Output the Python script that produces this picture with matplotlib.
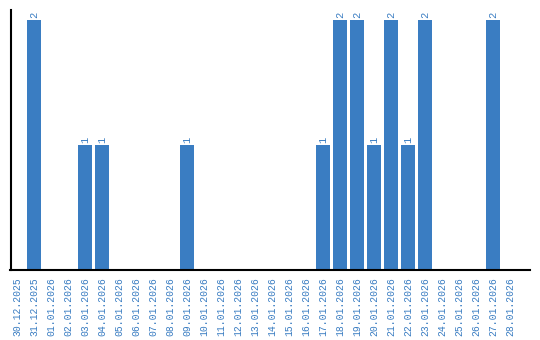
import matplotlib.pyplot as plt

dates = [
    "30.12.2025", "31.12.2025", "01.01.2026", "02.01.2026", "03.01.2026",
    "04.01.2026", "05.01.2026", "06.01.2026", "07.01.2026", "08.01.2026",
    "09.01.2026", "10.01.2026", "11.01.2026", "12.01.2026", "13.01.2026",
    "14.01.2026", "15.01.2026", "16.01.2026", "17.01.2026", "18.01.2026",
    "19.01.2026", "20.01.2026", "21.01.2026", "22.01.2026", "23.01.2026",
    "24.01.2026", "25.01.2026", "26.01.2026", "27.01.2026", "28.01.2026",
]
counts = [0, 2, 0, 0, 1, 1, 0, 0, 0, 0, 1, 0, 0, 0, 0,
          0, 0, 0, 1, 2, 2, 1, 2, 1, 2, 0, 0, 0, 2, 0]

blue = '#3a7dc2'
mono = 'Liberation Mono'

fig = plt.figure(figsize=(5.4, 3.4), dpi=100)
ax = fig.add_axes([10.5 / 540, 70 / 340, 519.5 / 540, 260 / 340])

x = range(len(dates))
ax.bar(x, counts, width=0.82, color=blue)

for i, v in enumerate(counts):
    if v > 0:
        ax.text(i, v + 0.02, str(v), rotation=90, ha='center', va='bottom',
                color=blue, fontsize=7.5, family=mono)

ax.set_xlim(-0.38, 30.18)
ax.set_ylim(0, 2.08)
ax.set_xticks(list(x))
ax.set_xticklabels(dates, rotation=90, color=blue, fontsize=7, family=mono)
ax.tick_params(axis='x', length=0, pad=5)
ax.set_yticks([])

for s in ['top', 'right']:
    ax.spines[s].set_visible(False)
for s in ['left', 'bottom']:
    ax.spines[s].set_linewidth(1.5)
    ax.spines[s].set_color('black')

fig.savefig('out.png', dpi=100)
